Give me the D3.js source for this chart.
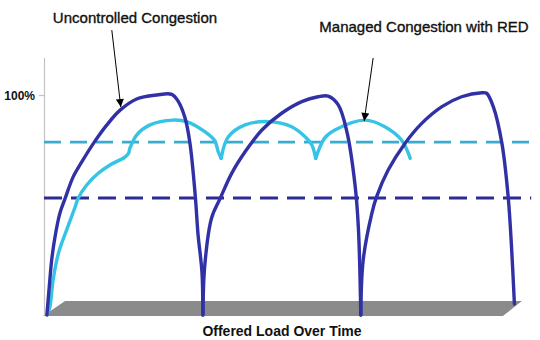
<!DOCTYPE html>
<html>
<head>
<meta charset="utf-8">
<script src="https://cdn.jsdelivr.net/npm/d3@7"></script>
<style>
  html, body { margin: 0; padding: 0; background: #fff; }
  svg { display: block; font-family: "Liberation Sans", Arial, sans-serif; }
</style>
</head>
<body>
<svg id="chart" width="540" height="340"></svg>
<script>
// ---------- data (time units 0..100, load in %) ----------
const yTickValues = [100];
const yTickLabels = ["100%"];
const xAxisTitle = "Offered Load Over Time";
const labelUncontrolled = "Uncontrolled Congestion";
const labelManaged = "Managed Congestion with RED";

const redThreshold = 78.6;      // upper dashed line (cyan)
const tailDropThreshold = 53.2; // lower dashed line (dark blue)

const uncontrolled1 = [[0.6,0],[1.1,12.9],[1.6,25.0],[2.3,35.6],[3.3,46.2],[4.4,53.0],[6.1,62.9],[7.9,69.7],[10.3,78.0],[13.1,86.4],[15.8,93.0],[19.3,98.2],[23.5,100],[26.6,100.3],[28.0,97.0],[29.4,89.4],[30.4,78.2],[31.5,54.5],[32.1,36.4],[32.9,19.7],[33.1,0]];
const uncontrolled2 = [[33.1,0],[33.5,22.7],[34.9,44.0],[36.7,53.0],[39.1,64.4],[41.9,74.2],[45.4,84.1],[49.5,91.7],[53.7,97.0],[57.1,99.2],[59.2,99.5],[61.3,95.5],[63.1,83.3],[64.8,59.1],[65.5,39.5],[66.0,0]];
const uncontrolled3 = [[66.0,0],[66.5,25.0],[68.3,46.2],[69.3,53.8],[71.7,65.9],[75.2,78.0],[78.7,87.1],[82.9,94.7],[87.0,99.2],[91.2,101.0],[92.2,100.8],[93.6,94.7],[95.4,78.0],[96.7,53.8],[97.4,31.0],[98.0,5.0]];

const managedRise = [[0.8,0.9],[1.25,3.8],[1.9,15.9],[3.0,28.0],[4.7,38.6],[6.5,49.2],[7.1,53.0],[8.9,59.1],[11.3,64.4],[13.75,68.2],[16.5,71.2]];
const managedArc1 = [[16.5,71.2],[17.6,73.5],[17.9,75.8],[19.3,81.8],[22.1,86.4],[26.9,88.6],[29.7,87.9],[33.5,83.3],[35.6,79.1],[36.3,74.2],[36.9,71.2]];
const managedArc2 = [[36.9,71.2],[38.4,81.0],[41.9,86.4],[46.7,87.9],[51.6,85.6],[54.4,81.0],[55.8,77.3],[56.6,71.2]];
const managedArc3 = [[56.6,71.2],[58.5,80.5],[60.6,84.1],[66.9,88.6],[71.0,85.6],[74.5,79.5],[76.3,71.2]];

// annotation targets (data coords)
const arrowUncontrolledTip = [16.0, 94.5];
const arrowManagedTip = [66.7, 88.2];

// ---------- layout ----------
const svg = d3.select("#chart");
const x = d3.scaleLinear().domain([0, 100]).range([44, 524]);
const y = d3.scaleLinear().domain([0, 117]).range([315, 57.6]);

const dark = "#3131a6";
const cyan = "#35c3e6";
const cyanDash = "#3aaccd";
const darkDash = "#2c2c96";

// floor (3D base)
const floorDepthX = 22, floorDepthY = -15;
const fx0 = x(-0.2), fx1 = x(95.6), fy = y(0) + 1;
svg.append("polygon")
  .attr("points", [[fx0, fy], [fx0 + floorDepthX, fy + floorDepthY], [fx1 + floorDepthX - 3, fy + floorDepthY], [fx1, fy]].map(p => p.join(",")).join(" "))
  .attr("fill", "#8b8b8b");

// y axis
const yAxis = d3.axisLeft(y).tickValues(yTickValues).tickFormat((d, i) => yTickLabels[i]).tickSize(5).tickSizeOuter(0);
const gy = svg.append("g").attr("transform", `translate(${x(0)},0)`).call(yAxis);
gy.select(".domain").attr("stroke", "#c4c4c4").attr("stroke-width", 1.2);
gy.selectAll(".tick line").attr("stroke", "#c4c4c4").attr("stroke-width", 1.2);
gy.selectAll(".tick text").attr("fill", "#111").attr("font-size", 12).attr("font-weight", "bold")
  .attr("font-family", "'Liberation Sans', Arial, sans-serif").attr("x", -9).attr("dy", "0.35em");

// dashed threshold lines
svg.append("line").attr("x1", x(0)).attr("x2", x(102.3)).attr("y1", y(redThreshold)).attr("y2", y(redThreshold))
  .attr("stroke", cyanDash).attr("stroke-width", 2.8).attr("stroke-dasharray", "17,9");
svg.append("line").attr("x1", x(0)).attr("x2", x(101.5)).attr("y1", y(tailDropThreshold)).attr("y2", y(tailDropThreshold))
  .attr("stroke", darkDash).attr("stroke-width", 3).attr("stroke-dasharray", "18,9");

const line = d3.line().x(d => x(d[0])).y(d => y(d[1])).curve(d3.curveCatmullRom.alpha(0.5));

// managed (RED) curve
[managedRise, managedArc1, managedArc2, managedArc3].forEach(seg => {
  svg.append("path").datum(seg).attr("d", line)
    .attr("fill", "none").attr("stroke", cyan).attr("stroke-width", 3.4)
    .attr("stroke-linejoin", "round").attr("stroke-linecap", "round");
});

// uncontrolled curve
[uncontrolled1, uncontrolled2, uncontrolled3].forEach(seg => {
  svg.append("path").datum(seg).attr("d", line)
    .attr("fill", "none").attr("stroke", dark).attr("stroke-width", 3.4)
    .attr("stroke-linejoin", "round").attr("stroke-linecap", "round");
});

// arrow marker
svg.append("defs").append("marker")
  .attr("id", "arrow").attr("viewBox", "0 0 10 10").attr("refX", 10).attr("refY", 5)
  .attr("markerWidth", 9).attr("markerHeight", 8).attr("markerUnits", "userSpaceOnUse")
  .attr("orient", "auto")
  .append("path").attr("d", "M0,0 L10,5 L0,10 z").attr("fill", "#000");

function arrow(tip, dx, dy) {
  const tx = x(tip[0]), ty = y(tip[1]);
  svg.append("line").attr("x1", tx + dx).attr("y1", ty + dy).attr("x2", tx).attr("y2", ty)
    .attr("stroke", "#000").attr("stroke-width", 1).attr("marker-end", "url(#arrow)");
}
arrow(arrowUncontrolledTip, -9, -77);
arrow(arrowManagedTip, 9, -63);

// labels
svg.append("text").attr("x", 135).attr("y", 23).attr("text-anchor", "middle")
  .attr("font-size", 15).attr("fill", "#111").attr("stroke", "#111").attr("stroke-width", 0.35)
  .text(labelUncontrolled);
svg.append("text").attr("x", 424).attr("y", 32).attr("text-anchor", "middle")
  .attr("font-size", 15).attr("fill", "#111").attr("stroke", "#111").attr("stroke-width", 0.35)
  .text(labelManaged);
svg.append("text").attr("x", 282).attr("y", 335.5).attr("text-anchor", "middle")
  .attr("font-size", 14).attr("font-weight", "bold").attr("fill", "#111").text(xAxisTitle);
</script>
</body>
</html>
